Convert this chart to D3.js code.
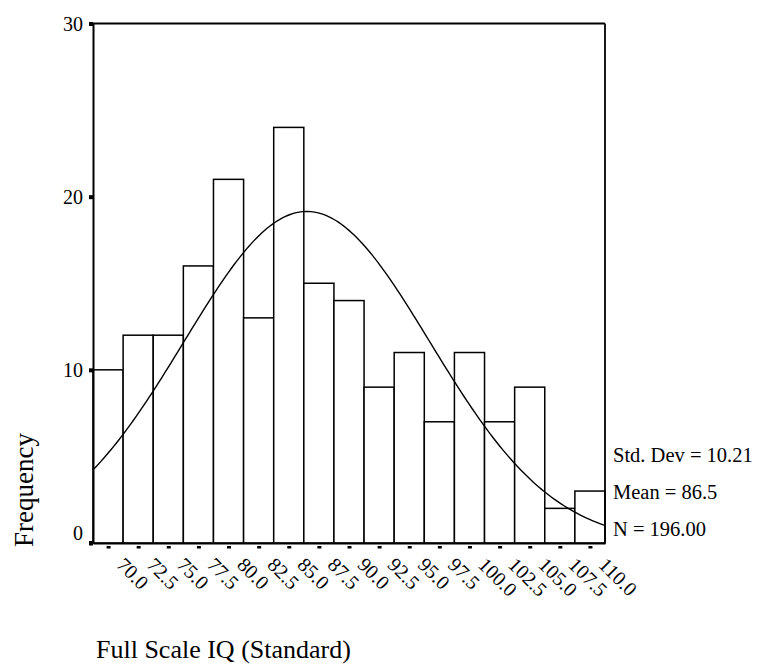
<!DOCTYPE html>
<html>
<head>
<meta charset="utf-8">
<script src="https://cdn.jsdelivr.net/npm/d3@7"></script>
<style>
  html, body { margin: 0; padding: 0; background: #fff; }
  svg { display: block; }
  text { font-family: "Liberation Serif", "Times New Roman", serif; fill: #000; }
</style>
</head>
<body>
<svg id="chart" width="760" height="666"></svg>
<script>
// ---- data ----
const binCenters = [70.0, 72.5, 75.0, 77.5, 80.0, 82.5, 85.0, 87.5, 90.0, 92.5, 95.0, 97.5, 100.0, 102.5, 105.0, 107.5, 110.0];
const frequencies = [10, 12, 12, 16, 21, 13, 24, 15, 14, 9, 11, 7, 11, 7, 9, 2, 3];
const tickLabels = ["70.0", "72.5", "75.0", "77.5", "80.0", "82.5", "85.0", "87.5", "90.0", "92.5", "95.0", "97.5", "100.0", "102.5", "105.0", "107.5", "110.0"];
const yTicks = [0, 10, 20, 30];
const statLabels = ["Std. Dev = 10.21", "Mean = 86.5", "N = 196.00"];
const stdDev = 10.21, mean = 86.5, nTotal = 196, binWidth = 2.5;

// ---- layout ----
const svg = d3.select("#chart");
const mLeft = 93, mRight = 605, mTop = 23.5, mBottom = 543;

const x = d3.scaleLinear()
  .domain([binCenters[0] - binWidth / 2, binCenters[binCenters.length - 1] + binWidth / 2])
  .range([mLeft, mRight]);
const y = d3.scaleLinear().domain([0, 30]).range([mBottom, mTop]);

// bars
svg.append("g").selectAll("rect")
  .data(binCenters)
  .join("rect")
  .attr("x", d => x(d - binWidth / 2))
  .attr("y", (d, i) => y(frequencies[i]))
  .attr("width", d => x(d + binWidth / 2) - x(d - binWidth / 2))
  .attr("height", (d, i) => y(0) - y(frequencies[i]))
  .attr("fill", "#fff")
  .attr("stroke", "#000")
  .attr("stroke-width", 1.5);

// normal curve from the reported statistics
const pdf = v => Math.exp(-0.5 * Math.pow((v - mean) / stdDev, 2)) / (stdDev * Math.sqrt(2 * Math.PI));
const xs = d3.range(0, 201).map(i => x.domain()[0] + (x.domain()[1] - x.domain()[0]) * i / 200);
svg.append("path")
  .datum(xs)
  .attr("fill", "none")
  .attr("stroke", "#000")
  .attr("stroke-width", 1.4)
  .attr("d", d3.line().x(v => x(v)).y(v => y(nTotal * binWidth * pdf(v))));

// frame: top and right
svg.append("line").attr("x1", mLeft).attr("x2", mRight).attr("y1", mTop).attr("y2", mTop)
  .attr("stroke", "#000").attr("stroke-width", 1.8);
svg.append("line").attr("x1", mRight).attr("x2", mRight).attr("y1", mTop).attr("y2", mBottom)
  .attr("stroke", "#000").attr("stroke-width", 1.8);

// y axis
const yAxis = d3.axisLeft(y).tickValues(yTicks).tickSize(0).tickPadding(10).tickFormat(d3.format("d"));
const gy = svg.append("g").attr("transform", `translate(${mLeft},0)`).call(yAxis);
gy.select(".domain").attr("stroke", "#000").attr("stroke-width", 2);
gy.selectAll(".tick text").attr("font-size", 20).attr("font-family", "Liberation Serif, serif")
  .attr("dy", d => d === 0 ? "-0.2em" : "0.34em");
gy.selectAll(".tick").append("rect").attr("x", -4).attr("y", -2).attr("width", 4).attr("height", 4).attr("fill", "#000");

// x axis
const xAxis = d3.axisBottom(x).tickValues(binCenters).tickSize(0).tickFormat((d, i) => tickLabels[i]);
const gx = svg.append("g").attr("transform", `translate(0,${mBottom})`).call(xAxis);
gx.select(".domain").attr("stroke", "#000").attr("stroke-width", 2);
gx.selectAll(".tick").append("rect").attr("x", -2).attr("y", 3).attr("width", 4).attr("height", 2.5).attr("fill", "#000");
gx.selectAll(".tick text")
  .attr("font-size", 20).attr("font-family", "Liberation Serif, serif")
  .attr("text-anchor", "start")
  .attr("dy", null).attr("y", null)
  .attr("transform", "translate(7,23) rotate(45)");

// corner square
svg.append("rect").attr("x", mLeft - 4).attr("y", mBottom - 2).attr("width", 4).attr("height", 4).attr("fill", "#000");

// stats
svg.append("g").selectAll("text")
  .data(statLabels)
  .join("text")
  .attr("x", 613)
  .attr("y", (d, i) => 462 + i * 37)
  .attr("font-size", 20.5)
  .text(d => d);

// axis titles
svg.append("text")
  .attr("transform", "translate(33,490) rotate(-90)")
  .attr("text-anchor", "middle")
  .attr("font-size", 27)
  .text("Frequency");

svg.append("text")
  .attr("x", 96).attr("y", 658)
  .attr("font-size", 26)
  .text("Full Scale IQ (Standard)");
</script>
</body>
</html>
